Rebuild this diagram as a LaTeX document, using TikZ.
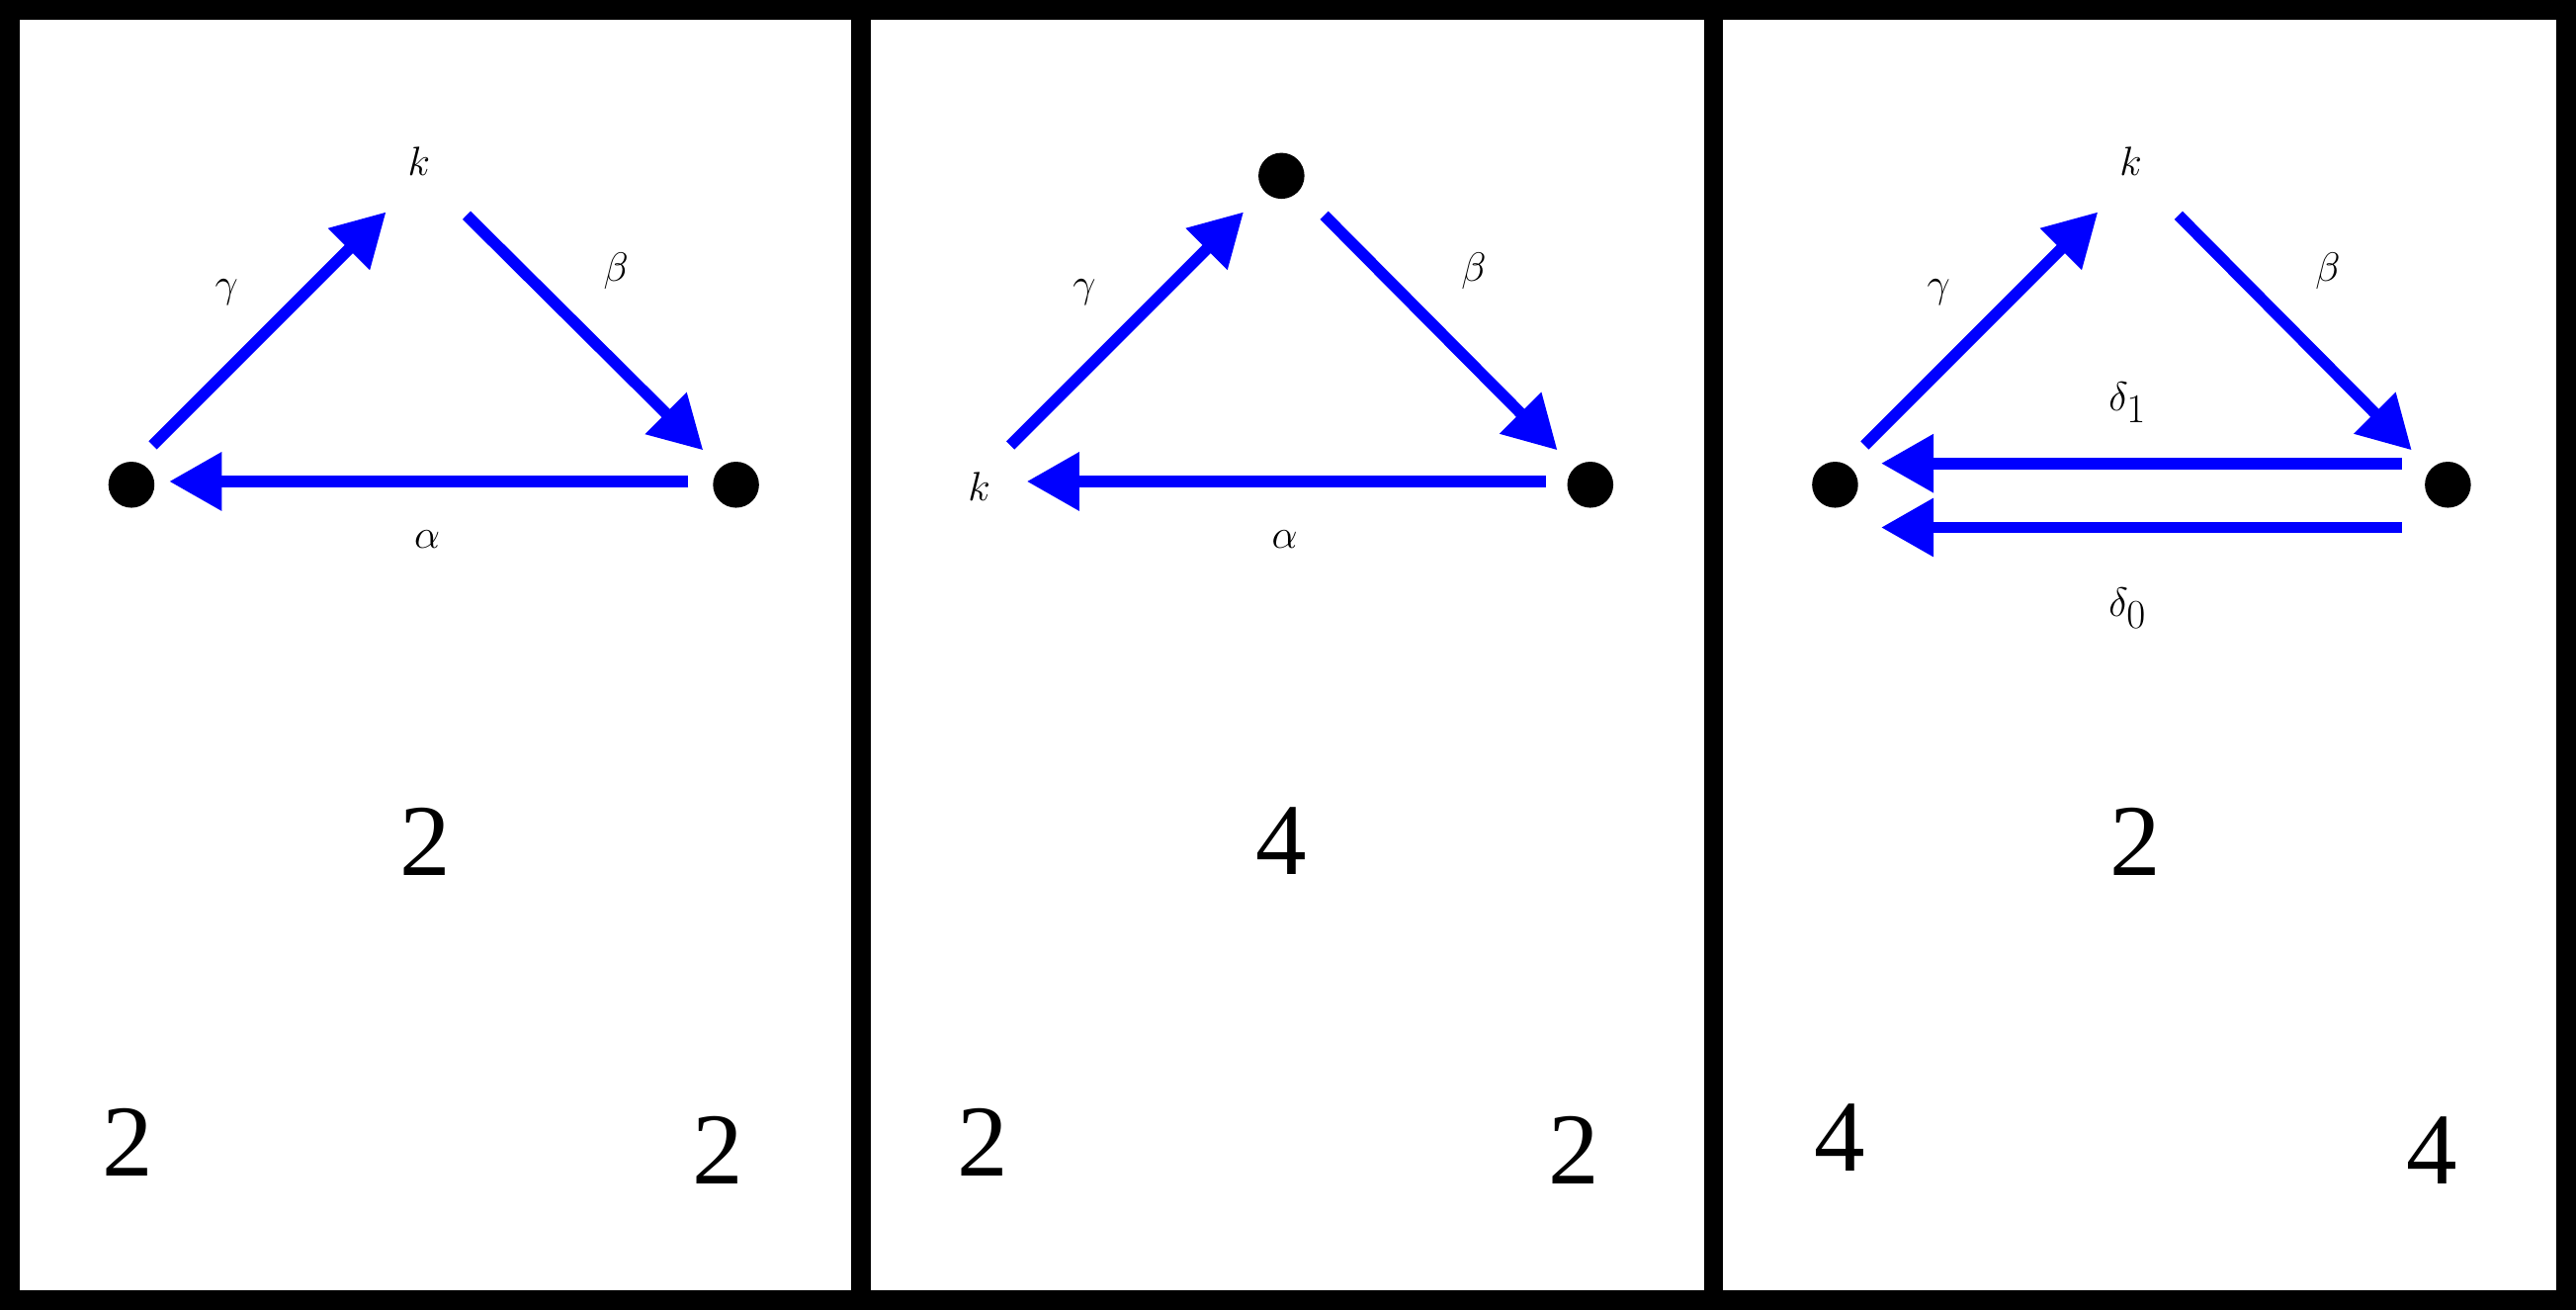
\documentclass[tikz,border=0pt]{standalone}
\usepackage{fontspec}
\setmainfont{Liberation Serif}
\usetikzlibrary{arrows.meta}
\begin{document}
\begin{tikzpicture}[x=1pt,y=-1pt,
  dot/.style={circle,fill=black,inner sep=0pt,minimum size=28pt},
  arr/.style={draw=blue,line width=7pt,-{Triangle[length=32pt,width=34pt]}},
  lab/.style={font=\fontsize{62}{62}\selectfont,inner sep=0pt},
  num/.style={font=\fontsize{62}{62}\selectfont,inner sep=0pt}]
\useasboundingbox (0,0) rectangle (1568,797);
\fill[white] (0,0) rectangle (1568,797);
\draw[line width=12pt] (6,6) rectangle (1562,791);
\draw[line width=12pt] (524,6) -- (524,791);
\draw[line width=12pt] (1043,6) -- (1043,791);
% panel 1
\node[dot] (a1) at (80,295) {};
\node[dot] (b1) at (448,295) {};
\node[lab] (k1) at (255,98) {$k$};
\coordinate (g1s) at (93,271); \coordinate (g1e) at (235,129);
\coordinate (be1s) at (284,131); \coordinate (be1e) at (428,274);
\coordinate (al1s) at (419,293); \coordinate (al1e) at (103,293);
\draw[arr] (g1s) -- (g1e);
\draw[arr] (be1s) -- (be1e);
\draw[arr] (al1s) -- (al1e);
\node[lab] (lg1) at (138,178) {$\gamma$};
\node[lab] (lb1) at (375,165) {$\beta$};
\node[lab] (la1) at (260,328) {$\alpha$};
\node[num] (n1) at (259,512) {2};
\node[num] (n1l) at (78,695) {2};
\node[num] (n1r) at (437,700) {2};
% panel 2
\node[dot] (t2) at (780,107) {};
\node[lab] (k2) at (596,296) {$k$};
\node[dot] (b2) at (968,295) {};
\coordinate (g2s) at (615,271); \coordinate (g2e) at (757,129);
\coordinate (be2s) at (806,131); \coordinate (be2e) at (948,274);
\coordinate (al2s) at (941,293); \coordinate (al2e) at (625,293);
\draw[arr] (g2s) -- (g2e);
\draw[arr] (be2s) -- (be2e);
\draw[arr] (al2s) -- (al2e);
\node[lab] (lg2) at (660,178) {$\gamma$};
\node[lab] (lb2) at (897,165) {$\beta$};
\node[lab] (la2) at (782,328) {$\alpha$};
\node[num] (n2) at (780,512) {4};
\node[num] (n2l) at (598,695) {2};
\node[num] (n2r) at (958,700) {2};
% panel 3
\node[dot] (a3) at (1117,295) {};
\node[dot] (b3) at (1490,295) {};
\node[lab] (k3) at (1297,98) {$k$};
\coordinate (g3s) at (1135,271); \coordinate (g3e) at (1277,129);
\coordinate (be3s) at (1326,131); \coordinate (be3e) at (1468,274);
\coordinate (d1s) at (1462,282); \coordinate (d1e) at (1145,282);
\coordinate (d0s) at (1462,321); \coordinate (d0e) at (1145,321);
\draw[arr] (g3s) -- (g3e);
\draw[arr] (be3s) -- (be3e);
\draw[arr] (d1s) -- (d1e);
\draw[arr] (d0s) -- (d0e);
\node[lab] (lg3) at (1180,178) {$\gamma$};
\node[lab] (lb3) at (1417,165) {$\beta$};
\node[lab] (ld1) at (1295,245) {$\delta_1$};
\node[lab] (ld0) at (1295,370) {$\delta_0$};
\node[num] (n3) at (1300,512) {2};
\node[num] (n3l) at (1120,692) {4};
\node[num] (n3r) at (1480,700) {4};
\end{tikzpicture}
\end{document}
